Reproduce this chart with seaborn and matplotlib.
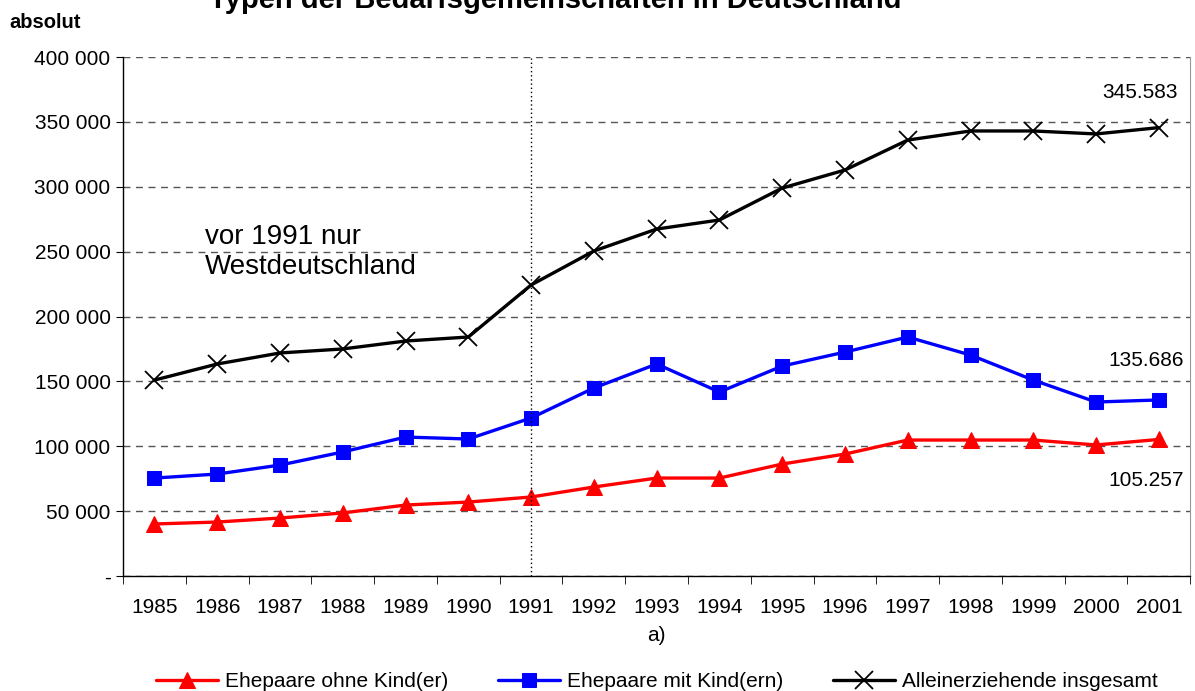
import numpy as np
import pandas as pd
import matplotlib
matplotlib.use("Agg")
import matplotlib.pyplot as plt
import seaborn as sns
from matplotlib.ticker import FuncFormatter, MultipleLocator

# Data
years = [str(y) for y in range(1985, 2002)]
ohne_kind = [40100, 41600, 44700, 48600, 54700, 57000, 60900, 68600, 75500,
             75500, 86300, 94000, 104800, 104800, 104800, 101000, 105257]
mit_kind = [75500, 78600, 85500, 95600, 107100, 105600, 121800, 144900, 163400,
            141800, 161800, 172600, 184200, 170300, 151000, 134100, 135686]
alleinerziehend = [151000, 163400, 171900, 175000, 181100, 184200, 224300, 250500, 267400,
                   274400, 299000, 312900, 336000, 343000, 343000, 340700, 345583]
series_names = ["Ehepaare ohne Kind(er)", "Ehepaare mit Kind(ern)", "Alleinerziehende insgesamt"]
end_labels = ["105.257", "135.686", "345.583"]

sns.set_style("white")
plt.rcParams['font.family'] = ['Liberation Sans', 'DejaVu Sans']
plt.rcParams['text.color'] = 'black'
plt.rcParams['xtick.color'] = 'black'
plt.rcParams['ytick.color'] = 'black'
plt.rcParams['axes.labelcolor'] = 'black'

fig = plt.figure(figsize=(11.95, 6.91), dpi=100)
ax = fig.add_axes([0.103, 0.1664, 0.893, 0.7511])

x = np.arange(len(years))
styles = [
    dict(color="#ff0000", marker="^", markersize=12, markeredgecolor="#ff0000"),
    dict(color="#0000ff", marker="s", markersize=10, markeredgecolor="#0000ff"),
    dict(color="#000000", marker="x", markersize=13, markeredgewidth=1.3,
         markeredgecolor="#000000"),
]
for vals, name, st in zip([ohne_kind, mit_kind, alleinerziehend], series_names, styles):
    sns.lineplot(x=x, y=vals, ax=ax, label=name, linewidth=2.4, **st)

ax.set_xlim(-0.5, len(years) - 0.5)
ax.set_ylim(0, 400000)
ax.yaxis.set_major_locator(MultipleLocator(50000))
ax.yaxis.set_major_formatter(FuncFormatter(
    lambda v, p: "-" if v == 0 else f"{int(v):,}".replace(",", " ")))
ax.set_xticks(x)
ax.set_xticklabels(years)
ax.set_xticks(np.arange(-0.5, len(years)), minor=True)
ax.tick_params(axis="x", which="major", length=0, pad=16, labelsize=15)
ax.tick_params(axis="x", which="minor", length=6, color="black", direction="out")
ax.tick_params(axis="y", length=5, color="black", direction="out", labelsize=15, pad=4)
ax.yaxis.set_ticks_position("left")
ax.xaxis.set_ticks_position("bottom")

ax.grid(axis="y", linestyle=(0, (5, 4)), color="#555555", linewidth=1)
ax.set_axisbelow(True)
for side in ["left", "bottom"]:
    ax.spines[side].set_color("black")
    ax.spines[side].set_linewidth(1)
ax.spines["top"].set_visible(False)
ax.spines["right"].set_color("#999999")

# dotted separator at 1991
ax.axvline(years.index("1991"), color="black", linestyle=(0, (1, 2)), linewidth=1)

ax.text(0.8, 250000, "vor 1991 nur\nWestdeutschland", fontsize=20, linespacing=1.2, va="center")

ax.annotate(end_labels[2], (16, alleinerziehend[-1]), xytext=(16.3, 373000),
            ha="right", va="center", fontsize=15)
ax.annotate(end_labels[1], (16, mit_kind[-1]), xytext=(16.4, 166000),
            ha="right", va="center", fontsize=15)
ax.annotate(end_labels[0], (16, ohne_kind[-1]), xytext=(16.4, 73500),
            ha="right", va="center", fontsize=15)

ax.set_xlabel("a)", fontsize=15, labelpad=6)
ax.set_ylabel("")
fig.text(0.008, 0.968, "absolut", fontsize=14.5, fontweight="bold", va="center")
fig.text(0.465, 1.0, "Typen der Bedarfsgemeinschaften in Deutschland",
         fontsize=21, fontweight="bold", ha="center", va="center")

ax.legend(loc="center", bbox_to_anchor=(0.5, -0.203), ncol=3, frameon=False,
          fontsize=15, handlelength=3.0, columnspacing=2.4, handletextpad=0.3)

fig.savefig("out.png", dpi=100)
